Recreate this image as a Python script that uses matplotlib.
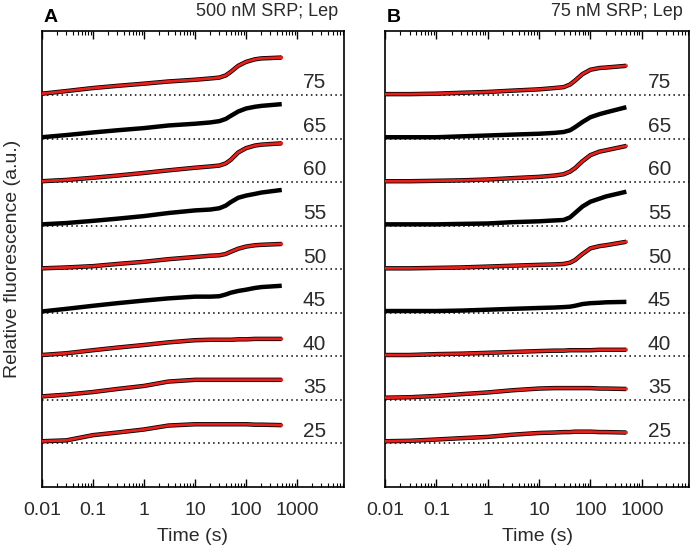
import numpy as np
import matplotlib
matplotlib.use("Agg")
import matplotlib.pyplot as plt
from matplotlib.ticker import LogLocator, NullFormatter, FixedLocator, FixedFormatter

plt.rcParams['font.family'] = ['Liberation Sans', 'DejaVu Sans']

t_read = [0.01, 0.03, 0.1, 0.3, 1, 3, 10, 20, 30, 40, 50, 70, 100, 150, 200, 500]

labels = ["75", "65", "60", "55", "50", "45", "40", "35", "25"]
# baseline offsets (trace spacing = 1)
offsets = [8, 7, 6, 5, 4, 3, 2, 1, 0]

# panel A: 500 nM SRP, signal above baseline
A_75 = [0.03, 0.09, 0.16, 0.21, 0.26, 0.31, 0.35, 0.38, 0.40, 0.45, 0.53, 0.67, 0.76, 0.82, 0.84, 0.86]
A_65 = [0.03, 0.08, 0.14, 0.19, 0.24, 0.30, 0.34, 0.37, 0.40, 0.45, 0.52, 0.62, 0.69, 0.73, 0.75, 0.79]
A_60 = [0.02, 0.05, 0.10, 0.15, 0.21, 0.27, 0.33, 0.36, 0.38, 0.43, 0.51, 0.68, 0.78, 0.84, 0.86, 0.89]
A_55 = [0.03, 0.06, 0.11, 0.16, 0.22, 0.29, 0.35, 0.37, 0.40, 0.46, 0.54, 0.64, 0.69, 0.73, 0.76, 0.82]
A_50 = [0.02, 0.04, 0.07, 0.12, 0.17, 0.23, 0.28, 0.31, 0.32, 0.35, 0.40, 0.47, 0.52, 0.55, 0.56, 0.58]
A_45 = [0.03, 0.09, 0.16, 0.22, 0.28, 0.33, 0.37, 0.37, 0.38, 0.42, 0.46, 0.50, 0.53, 0.57, 0.59, 0.62]
A_40 = [0.03, 0.07, 0.14, 0.20, 0.26, 0.32, 0.37, 0.38, 0.38, 0.38, 0.38, 0.39, 0.39, 0.40, 0.40, 0.40]
A_35 = [0.08, 0.12, 0.18, 0.25, 0.32, 0.42, 0.46, 0.46, 0.46, 0.46, 0.46, 0.46, 0.46, 0.46, 0.46, 0.46]
A_25 = [0.05, 0.07, 0.19, 0.25, 0.32, 0.41, 0.44, 0.44, 0.44, 0.44, 0.44, 0.44, 0.44, 0.43, 0.43, 0.42]
A_fit = [True, False, True, False, True, False, True, True, True]

# panel B: 75 nM SRP
B_75 = [0.02, 0.02, 0.03, 0.05, 0.07, 0.10, 0.13, 0.16, 0.18, 0.24, 0.33, 0.48, 0.58, 0.62, 0.63, 0.67]
B_65 = [0.03, 0.03, 0.03, 0.05, 0.07, 0.09, 0.11, 0.13, 0.15, 0.19, 0.26, 0.38, 0.49, 0.56, 0.60, 0.72]
B_60 = [0.02, 0.02, 0.03, 0.04, 0.06, 0.09, 0.12, 0.15, 0.18, 0.24, 0.32, 0.48, 0.62, 0.70, 0.73, 0.83]
B_55 = [0.03, 0.03, 0.03, 0.04, 0.05, 0.08, 0.10, 0.12, 0.13, 0.19, 0.29, 0.44, 0.55, 0.62, 0.67, 0.78]
B_50 = [0.02, 0.02, 0.03, 0.04, 0.06, 0.08, 0.10, 0.11, 0.12, 0.15, 0.21, 0.35, 0.48, 0.53, 0.55, 0.63]
B_45 = [0.04, 0.04, 0.04, 0.05, 0.07, 0.09, 0.11, 0.12, 0.13, 0.14, 0.16, 0.20, 0.22, 0.23, 0.24, 0.25]
B_40 = [0.03, 0.03, 0.05, 0.06, 0.08, 0.10, 0.12, 0.13, 0.13, 0.14, 0.14, 0.14, 0.14, 0.15, 0.15, 0.15]
B_35 = [0.05, 0.06, 0.09, 0.13, 0.17, 0.22, 0.26, 0.27, 0.27, 0.27, 0.27, 0.27, 0.27, 0.26, 0.26, 0.25]
B_25 = [0.05, 0.06, 0.09, 0.12, 0.15, 0.20, 0.24, 0.25, 0.26, 0.26, 0.27, 0.27, 0.27, 0.26, 0.26, 0.25]
B_fit = [True, False, True, False, True, False, True, True, True]

panels = [
    ("A", "500 nM SRP; Lep", [A_75, A_65, A_60, A_55, A_50, A_45, A_40, A_35, A_25], A_fit),
    ("B", "75 nM SRP; Lep", [B_75, B_65, B_60, B_55, B_50, B_45, B_40, B_35, B_25], B_fit),
]

fig = plt.figure(figsize=(6.92, 5.51), dpi=100)
rects = [[0.0607, 0.1162, 0.4364, 0.8276], [0.5564, 0.1162, 0.4393, 0.8276]]
txtc = '#2a2a2a'

for (letter, title, traces, fits), rect in zip(panels, rects):
    ax = fig.add_axes(rect)
    ax.set_xscale('log')
    ax.set_xlim(0.01, 8300)
    ax.set_ylim(-1.0, 9.47)
    for lab, off, tr, f in zip(labels, offsets, traces, fits):
        ax.axhline(off, color='black', lw=1.1, ls=(0, (1, 2.2)), zorder=1)
        y = np.array(tr) + off
        ax.plot(t_read, y, color='black', lw=3.2, solid_capstyle='butt',
                solid_joinstyle='round', zorder=2)
        if f:
            ax.plot(t_read, y, color='#e8201c', lw=2.0, zorder=3)
        ax.text(2200, off + 0.06, lab, fontsize=15, color=txtc, ha='center', va='bottom')
    ax.set_yticks([])
    ax.xaxis.set_major_locator(FixedLocator([0.01, 0.1, 1, 10, 100, 1000, 10000]))
    ax.xaxis.set_major_formatter(FixedFormatter(["0.01", "0.1", "1", "10", "100", "1000", ""]))
    ax.xaxis.set_minor_locator(LogLocator(base=10, subs=np.arange(2, 10), numticks=20))
    ax.xaxis.set_minor_formatter(NullFormatter())
    ax.tick_params(axis='x', which='both', direction='in', top=True, bottom=True,
                   labelsize=14, labelcolor=txtc, pad=11)
    ax.tick_params(axis='x', which='major', length=6, width=1)
    ax.tick_params(axis='x', which='minor', length=3, width=0.8)
    for s in ax.spines.values():
        s.set_linewidth(1.2)
    ax.set_xlabel("Time (s)", fontsize=14, color=txtc, labelpad=6)
    ax.text(0.005, 1.01, letter, transform=ax.transAxes, fontsize=14, fontweight='bold',
            ha='left', va='bottom')
    ax.text(0.98, 1.025, title, transform=ax.transAxes, fontsize=13, color=txtc,
            ha='right', va='bottom')

fig.text(0.018, 0.53, "Relative fluorescence (a.u.)", rotation=90, fontsize=14,
         color=txtc, ha='center', va='center')

fig.savefig("out.png", dpi=100)
